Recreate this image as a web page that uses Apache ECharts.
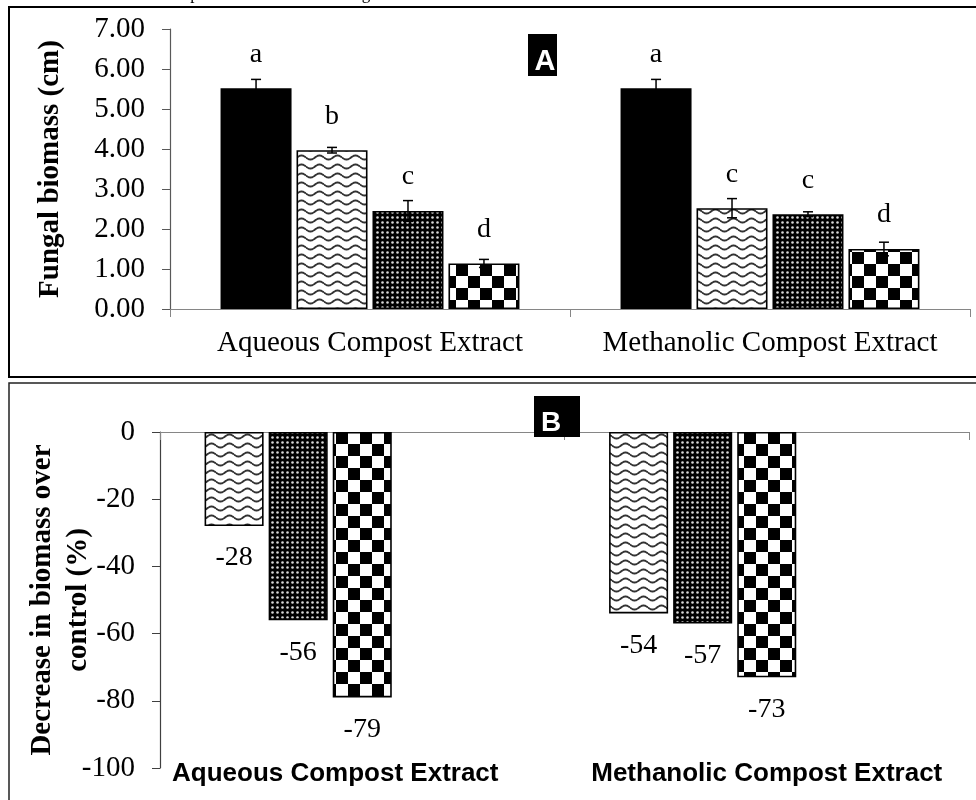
<!DOCTYPE html>
<html>
<head>
<meta charset="utf-8">
<script src="https://cdn.jsdelivr.net/npm/echarts@6/dist/echarts.min.js"></script>
<style>
  html, body { margin: 0; padding: 0; background: #fff; }
  #chart { width: 976px; height: 800px; }
</style>
</head>
<body>
<div id="chart"></div>
<script>
// panel A: fungal biomass (cm), mean and standard error
const extracts = ['Aqueous Compost Extract', 'Methanolic Compost Extract'];
const seriesNames = ['Control', 'Treatment 1', 'Treatment 2', 'Treatment 3'];
const biomass = [
  [5.52, 5.52],
  [3.97, 2.52],
  [2.45, 2.37],
  [1.14, 1.50]
];
const biomassSE = [
  [0.22, 0.22],
  [0.07, 0.24],
  [0.26, 0.06],
  [0.10, 0.17]
];
const letters = [
  ['a', 'a'],
  ['b', 'c'],
  ['c', 'c'],
  ['d', 'd']
];
// panel B: decrease over control (%)
const decrease = [
  [-28, -54],
  [-56, -57],
  [-79, -73]
];

const SERIF = '"Liberation Serif", "Times New Roman", serif';
const SANS = '"Liberation Sans", Arial, sans-serif';

function makePattern(w, h, draw) {
  const c = document.createElement('canvas');
  c.width = w; c.height = h;
  const ctx = c.getContext('2d');
  draw(ctx, w, h);
  return { image: c, repeat: 'repeat' };
}

const wavy = makePattern(18, 9, function (ctx, w, h) {
  ctx.fillStyle = '#fff';
  ctx.fillRect(0, 0, w, h);
  ctx.strokeStyle = '#333';
  ctx.lineWidth = 1.9;
  ctx.beginPath();
  for (let x = 0; x <= w; x += 0.5) {
    const y = 4.5 + 2 * Math.sin(2 * Math.PI * x / w);
    if (x === 0) ctx.moveTo(x, y); else ctx.lineTo(x, y);
  }
  ctx.stroke();
});

const dotted = makePattern(5, 5, function (ctx, w, h) {
  ctx.fillStyle = '#000';
  ctx.fillRect(0, 0, w, h);
  ctx.fillStyle = '#d8d8d8';
  ctx.beginPath();
  ctx.arc(2.5, 2.5, 1.3, 0, Math.PI * 2);
  ctx.fill();
});

const checker = makePattern(24, 24, function (ctx, w, h) {
  ctx.fillStyle = '#fff';
  ctx.fillRect(0, 0, w, h);
  ctx.fillStyle = '#000';
  ctx.fillRect(0, 0, 12, 12);
  ctx.fillRect(12, 12, 12, 12);
});

const fills = ['#000', wavy, dotted, checker];

const BAR_A = 0.1775, GAP_A = 0.07;

const errData = [];
biomass.forEach(function (row, s) {
  row.forEach(function (v, c) {
    errData.push([c, v, biomassSE[s][c], s]);
  });
});

const seriesA = biomass.map(function (row, s) {
  return {
    name: seriesNames[s],
    type: 'bar',
    xAxisIndex: 0,
    yAxisIndex: 0,
    data: row,
    barWidth: (BAR_A * 100) + '%',
    barGap: (GAP_A * 100) + '%',
    itemStyle: { color: fills[s], borderColor: '#000', borderWidth: 1.6 },
    label: {
      show: true,
      position: 'top',
      distance: 20,
      fontFamily: SERIF,
      fontSize: 28,
      color: '#000',
      formatter: function (p) { return letters[s][p.dataIndex]; }
    }
  };
});

const errSeries = {
  type: 'custom',
  xAxisIndex: 0,
  yAxisIndex: 0,
  z: 5,
  data: errData,
  renderItem: function (params, api) {
    const cat = api.value(0), v = api.value(1), se = api.value(2), slot = api.value(3);
    const band = api.size([1, 0])[0];
    const pitch = band * BAR_A * (1 + GAP_A);
    const x = api.coord([cat, v])[0] + (slot - 1.5) * pitch;
    const top = api.coord([cat, v + se])[1];
    const bot = api.coord([cat, v - se])[1];
    const cap = 5;
    const st = { stroke: '#000', lineWidth: 1.5 };
    return {
      type: 'group',
      children: [
        { type: 'line', shape: { x1: x, y1: top, x2: x, y2: bot }, style: st },
        { type: 'line', shape: { x1: x - cap, y1: top, x2: x + cap, y2: top }, style: st },
        { type: 'line', shape: { x1: x - cap, y1: bot, x2: x + cap, y2: bot }, style: st }
      ]
    };
  }
};

const seriesB = decrease.map(function (row, s) {
  return {
    name: seriesNames[s + 1],
    type: 'bar',
    xAxisIndex: 1,
    yAxisIndex: 1,
    data: row,
    barWidth: '14.6%',
    barGap: '8.5%',
    itemStyle: { color: fills[s + 1], borderColor: '#000', borderWidth: 1.6 },
    label: {
      show: true,
      position: 'bottom',
      distance: 18,
      fontFamily: SERIF,
      fontSize: 28,
      color: '#000'
    }
  };
});
// two empty slots after the treatments, as in the original layout
['', ' '].forEach(function (n) {
  seriesB.push({ name: n, type: 'bar', xAxisIndex: 1, yAxisIndex: 1, data: [null, null], barWidth: '14.6%', barGap: '8.5%' });
});

const chart = echarts.init(document.getElementById('chart'), null, { renderer: 'canvas' });

chart.setOption({
  backgroundColor: '#fff',
  animation: false,
  grid: [
    { left: 170, right: 6, top: 29, height: 280, outerBoundsMode: 'none' },
    { left: 160, right: 7, top: 432, height: 336, outerBoundsMode: 'none' }
  ],
  xAxis: [
    {
      type: 'category', gridIndex: 0, data: extracts, position: 'bottom',
      axisLine: { lineStyle: { color: '#868686', width: 1.2 } },
      axisTick: { show: true, length: 8, lineStyle: { color: '#868686' } },
      axisLabel: { interval: 0, margin: 20, fontFamily: SERIF, fontSize: 29, color: '#000' },
      splitLine: { show: false }
    },
    {
      type: 'category', gridIndex: 1, data: extracts, position: 'top',
      axisLine: { onZero: false, lineStyle: { color: '#868686', width: 1.2 } },
      axisTick: { show: true, inside: true, length: 8, lineStyle: { color: '#868686' } },
      axisLabel: { show: false },
      splitLine: { show: false }
    },
    {
      type: 'category', gridIndex: 1, data: [
        { value: extracts[0], textStyle: { padding: [0, 54, 0, 0] } },
        extracts[1]
      ],
      position: 'bottom', offset: -7,
      axisLine: { show: false }, axisTick: { show: false },
      axisLabel: { interval: 0, margin: 0, fontFamily: SANS, fontWeight: 'bold', fontSize: 26, color: '#000' },
      splitLine: { show: false }
    }
  ],
  yAxis: [
    {
      type: 'value', gridIndex: 0, min: 0, max: 7, interval: 1,
      name: 'Fungal biomass (cm)', nameLocation: 'middle', nameGap: 105, nameMoveOverlap: false,
      nameTextStyle: { fontFamily: SERIF, fontWeight: 'bold', fontSize: 29, color: '#000' },
      axisLine: { show: true, lineStyle: { color: '#595959', width: 1.2 } },
      axisTick: { show: true, length: 8, lineStyle: { color: '#595959' } },
      axisLabel: { margin: 25, fontFamily: SERIF, fontSize: 29, color: '#000',
        formatter: function (v) { return v.toFixed(2); } },
      splitLine: { show: false }
    },
    {
      type: 'value', gridIndex: 1, min: -100, max: 0, interval: 20,
      name: 'Decrease in biomass over\ncontrol (%)', nameLocation: 'middle', nameGap: 63, nameMoveOverlap: false,
      nameTextStyle: { fontFamily: SERIF, fontWeight: 'bold', fontSize: 29, color: '#000', lineHeight: 36 },
      axisLine: { show: true, onZero: false, lineStyle: { color: '#404040', width: 1.2 } },
      axisTick: { show: true, length: 8, lineStyle: { color: '#404040' } },
      axisLabel: { margin: 25, fontFamily: SERIF, fontSize: 29, color: '#000' },
      splitLine: { show: false }
    }
  ],
  graphic: [
    { type: 'text', left: 10, top: -14, z: 10,
      style: { text: 'show standard error and alphabetical letters show significant difference.',
        font: '17px ' + SERIF, fill: '#000' } },
    { type: 'rect', shape: { x: 9, y: 7, width: 1000, height: 370 },
      style: { fill: 'none', stroke: '#000', lineWidth: 2 }, z: 10 },
    { type: 'rect', shape: { x: 9, y: 383, width: 1000, height: 430 },
      style: { fill: 'none', stroke: '#222', lineWidth: 1.5 }, z: 10 },
    { type: 'rect', shape: { x: 528, y: 34, width: 29, height: 42 }, style: { fill: '#000' }, z: 10 },
    { type: 'text', x: 545, y: 62, z: 11,
      style: { text: 'A', font: 'bold 29px ' + SANS, fill: '#fff', align: 'center', verticalAlign: 'middle' } },
    { type: 'rect', shape: { x: 534, y: 396, width: 46, height: 41 }, style: { fill: '#000' }, z: 10 },
    { type: 'text', x: 551, y: 423, z: 11,
      style: { text: 'B', font: 'bold 28px ' + SANS, fill: '#fff', align: 'center', verticalAlign: 'middle' } }
  ],
  series: seriesA.concat([errSeries]).concat(seriesB)
});
</script>
</body>
</html>
